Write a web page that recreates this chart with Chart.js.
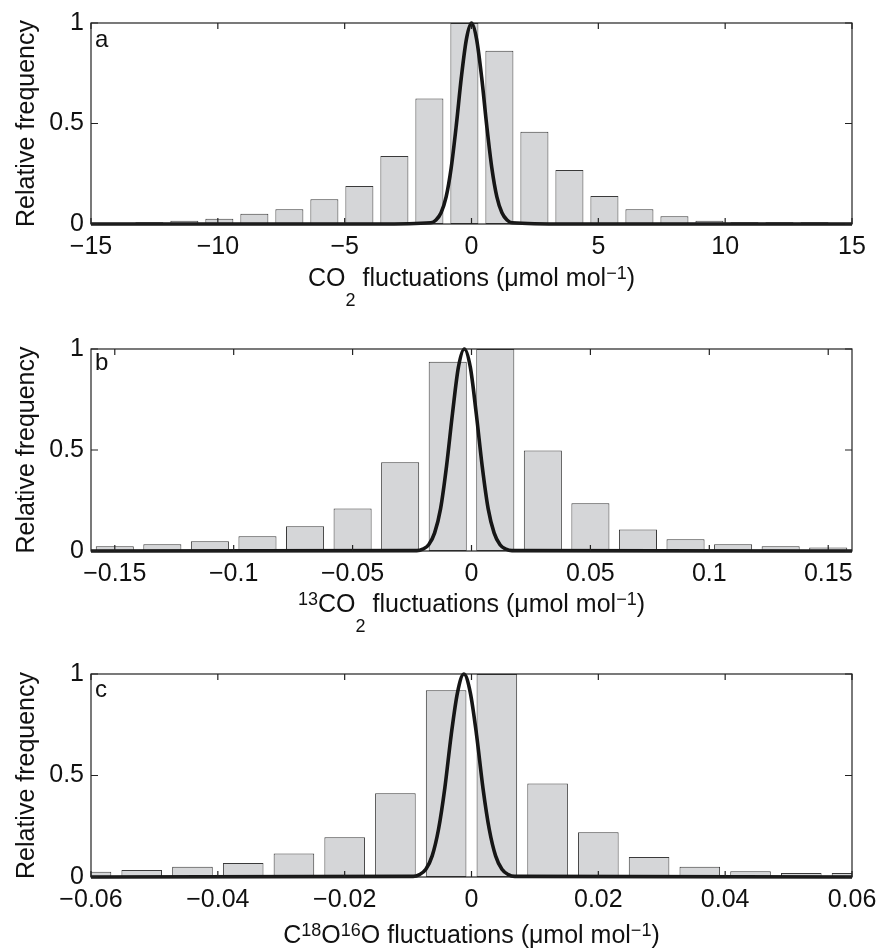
<!DOCTYPE html>
<html>
<head>
<meta charset="utf-8">
<script src="https://cdn.jsdelivr.net/npm/chart.js@4.4.0/dist/chart.umd.min.js"></script>
<style>
    html, body { margin: 0; padding: 0; background: #fff; overflow: hidden; }
    .panel { position: absolute; left: 0; }
</style>
</head>
<body>
<div class="panel" style="top:0px"><canvas id="chartA" width="879" height="320"></canvas></div>
<div class="panel" style="top:326px"><canvas id="chartB" width="879" height="320"></canvas></div>
<div class="panel" style="top:651px"><canvas id="chartC" width="879" height="299"></canvas></div>
<script>
// Panel a: CO2
const binsA = [-12.7, -11.32, -9.94, -8.56, -7.18, -5.8, -4.42, -3.04, -1.66, -0.28, 1.1, 2.48, 3.86, 5.24, 6.62, 8.0, 9.38, 10.76, 12.14, 13.52];
const freqA = [0.009, 0.016, 0.026, 0.051, 0.074, 0.123, 0.189, 0.338, 0.624, 1.0, 0.862, 0.459, 0.269, 0.139, 0.073, 0.039, 0.016, 0.009, 0.009, 0.009];
const fitXA = [-15, -3.7, -1.6, -1.4, -1.2, -1.0, -0.8, -0.6, -0.4, -0.2, 0, 0.2, 0.4, 0.6, 0.8, 1.0, 1.2, 1.4, 1.6, 3.7, 15];
const fitYA = [0, 0, 0.006, 0.02, 0.056, 0.135, 0.28, 0.49, 0.73, 0.92, 1, 0.92, 0.73, 0.49, 0.28, 0.135, 0.056, 0.02, 0.006, 0, 0];
const ticksXA = [-15, -10, -5, 0, 5, 10, 15];

// Panel b: 13CO2
const binsB = [-0.15, -0.13, -0.11, -0.09, -0.07, -0.05, -0.03, -0.01, 0.01, 0.03, 0.05, 0.07, 0.09, 0.11, 0.13, 0.15];
const freqB = [0.023, 0.033, 0.048, 0.073, 0.122, 0.211, 0.439, 0.937, 1.0, 0.497, 0.236, 0.106, 0.058, 0.033, 0.023, 0.017];
const fitXB = [-0.16, -0.023, -0.0205, -0.018, -0.0155, -0.013, -0.0105, -0.008, -0.0055, -0.003, -0.0005, 0.002, 0.0045, 0.007, 0.0095, 0.012, 0.0145, 0.017, 0.16];
const fitYB = [0, 0.002, 0.009, 0.031, 0.09, 0.21, 0.42, 0.68, 0.91, 1, 0.91, 0.68, 0.42, 0.21, 0.09, 0.031, 0.009, 0.002, 0];
const ticksXB = [-0.15, -0.1, -0.05, 0, 0.05, 0.1, 0.15];

// Panel c: C18O16O
const binsC = [-0.06, -0.052, -0.044, -0.036, -0.028, -0.02, -0.012, -0.004, 0.004, 0.012, 0.02, 0.028, 0.036, 0.044, 0.052, 0.06];
const freqC = [0.026, 0.034, 0.051, 0.069, 0.116, 0.196, 0.413, 0.92, 1.0, 0.46, 0.22, 0.098, 0.051, 0.028, 0.02, 0.02];
const fitXC = [-0.06, -0.0092, -0.0082, -0.0072, -0.0062, -0.0052, -0.0042, -0.0032, -0.0022, -0.0012, -0.0002, 0.0008, 0.0018, 0.0028, 0.0038, 0.0048, 0.0058, 0.0068, 0.06];
const fitYC = [0, 0.003, 0.012, 0.038, 0.104, 0.235, 0.44, 0.7, 0.91, 1, 0.91, 0.7, 0.44, 0.235, 0.104, 0.038, 0.012, 0.003, 0];
const ticksXC = [-0.06, -0.04, -0.02, 0, 0.02, 0.04, 0.06];

const ticksY = [0, 0.5, 1];

const FONT = "'Liberation Sans', Arial, Helvetica, sans-serif";
Chart.defaults.font.family = FONT;
Chart.defaults.font.size = 25;
Chart.defaults.color = '#111';

// Box, inward ticks, panel letter and axis titles (with sub/superscripts)
const matlabAxes = {
    id: 'matlabAxes',
    afterDraw(chart, args, opts) {
        const { ctx, chartArea: a, scales } = chart;
        ctx.save();
        ctx.strokeStyle = '#222';
        ctx.lineWidth = 1.2;
        ctx.strokeRect(a.left, a.top, a.right - a.left, a.bottom - a.top);

        ctx.beginPath();
        opts.xTicks.forEach(v => {
            const x = scales.x.getPixelForValue(v);
            ctx.moveTo(x, a.bottom); ctx.lineTo(x, a.bottom - 6);
            ctx.moveTo(x, a.top); ctx.lineTo(x, a.top + 6);
        });
        ticksY.forEach(v => {
            const y = scales.y.getPixelForValue(v);
            ctx.moveTo(a.left, y); ctx.lineTo(a.left + 7, y);
            ctx.moveTo(a.right, y); ctx.lineTo(a.right - 7, y);
        });
        ctx.stroke();

        ctx.fillStyle = '#111';
        ctx.font = '24px ' + FONT;
        ctx.textAlign = 'left';
        ctx.textBaseline = 'alphabetic';
        ctx.fillText(opts.letter, a.left + 4, a.top + opts.letterOffset);

        // x title
        const big = '25px ' + FONT, small = '18px ' + FONT;
        let total = 0;
        opts.title.forEach(s => {
            ctx.font = (s.sub || s.sup) ? small : big;
            total += ctx.measureText(s.text).width;
        });
        let x = (a.left + a.right) / 2 - total / 2;
        const base = a.bottom + opts.titleOffset;
        opts.title.forEach(s => {
            ctx.font = (s.sub || s.sup) ? small : big;
            const dy = s.sub ? 20 : (s.sup ? -7 : 0);
            ctx.fillText(s.text, x, base + dy);
            x += ctx.measureText(s.text).width;
        });

        // y title
        ctx.translate(34, (a.top + a.bottom) / 2);
        ctx.rotate(-Math.PI / 2);
        ctx.textAlign = 'center';
        ctx.font = '25px ' + FONT;
        ctx.fillText('Relative frequency', 0, 0);
        ctx.restore();
    }
};

function minusLabel(v) {
    return v < 0 ? '\u2212' + Math.abs(v) : String(v);
}

function makePanel(id, cfg) {
    const el = document.getElementById(id);
    new Chart(el, {
        type: 'bar',
        data: {
            datasets: [{
                type: 'line',
                data: cfg.fitX.map((x, i) => ({ x: x, y: cfg.fitY[i] })),
                borderColor: '#161616',
                borderWidth: 3.6,
                pointRadius: 0,
                cubicInterpolationMode: 'monotone',
                clip: false,
                order: 0
            }, {
                type: 'bar',
                data: cfg.bins.map((x, i) => ({ x: x, y: cfg.freq[i] })),
                backgroundColor: '#d5d6d8',
                borderColor: '#3a3a3a',
                borderWidth: 1,
                borderSkipped: false,
                barPercentage: 0.8,
                categoryPercentage: 1,
                order: 1
            }]
        },
        options: {
            responsive: false,
            animation: false,
            layout: { padding: { top: 23, right: 27, left: 0, bottom: 0 } },
            scales: {
                x: {
                    type: 'linear',
                    min: cfg.min,
                    max: cfg.max,
                    offset: false,
                    grid: { display: false, drawTicks: false },
                    border: { display: false },
                    afterBuildTicks: s => { s.ticks = cfg.xTicks.map(v => ({ value: v })); },
                    afterFit: s => {
                        s.height = el.height - 23 - cfg.plotH;
                        s.paddingLeft = 0;
                        s.paddingRight = 0;
                    },
                    ticks: { autoSkip: false, maxRotation: 0, padding: 8, callback: minusLabel }
                },
                y: {
                    min: 0,
                    max: 1,
                    grid: { display: false, drawTicks: false },
                    border: { display: false },
                    afterBuildTicks: s => { s.ticks = ticksY.map(v => ({ value: v })); },
                    afterFit: s => { s.width = 91; s.paddingTop = 0; s.paddingBottom = 0; },
                    ticks: { padding: 7, callback: v => String(v) }
                }
            },
            plugins: {
                legend: { display: false },
                tooltip: { enabled: false },
                matlabAxes: {
                    xTicks: cfg.xTicks,
                    letter: cfg.letter,
                    letterOffset: cfg.letterOffset,
                    title: cfg.title,
                    titleOffset: cfg.titleOffset
                }
            }
        },
        plugins: [matlabAxes]
    });
}

makePanel('chartA', {
    bins: binsA, freq: freqA, fitX: fitXA, fitY: fitYA, xTicks: ticksXA,
    min: -15, max: 15, plotH: 201, letter: 'a', letterOffset: 24, titleOffset: 62,
    title: [{ text: 'CO' }, { text: '2', sub: true }, { text: ' fluctuations (\u03bcmol mol' }, { text: '\u22121', sup: true }, { text: ')' }]
});

makePanel('chartB', {
    bins: binsB, freq: freqB, fitX: fitXB, fitY: fitYB, xTicks: ticksXB,
    min: -0.16, max: 0.16, plotH: 202, letter: 'b', letterOffset: 21, titleOffset: 61,
    title: [{ text: '13', sup: true }, { text: 'CO' }, { text: '2', sub: true }, { text: ' fluctuations (\u03bcmol mol' }, { text: '\u22121', sup: true }, { text: ')' }]
});

makePanel('chartC', {
    bins: binsC, freq: freqC, fitX: fitXC, fitY: fitYC, xTicks: ticksXC,
    min: -0.06, max: 0.06, plotH: 203, letter: 'c', letterOffset: 23, titleOffset: 66,
    title: [{ text: 'C' }, { text: '18', sup: true }, { text: 'O' }, { text: '16', sup: true }, { text: 'O fluctuations (\u03bcmol mol' }, { text: '\u22121', sup: true }, { text: ')' }]
});
</script>
</body>
</html>
